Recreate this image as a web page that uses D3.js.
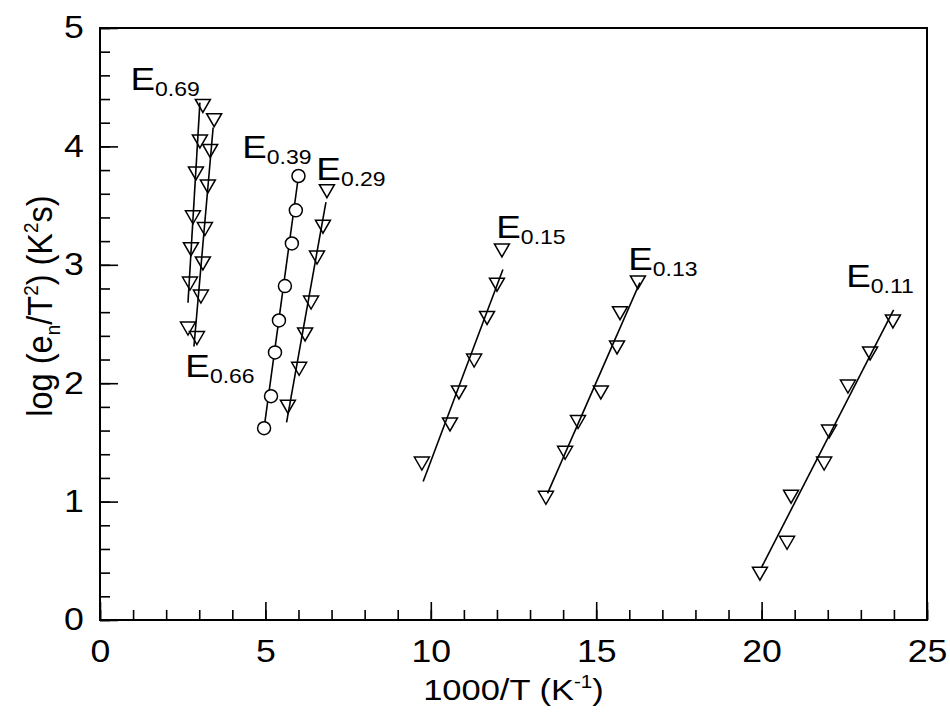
<!DOCTYPE html>
<html>
<head>
<meta charset="utf-8">
<script src="https://cdn.jsdelivr.net/npm/d3@7"></script>
<style>
  body { margin: 0; background: #fff; }
  svg { display: block; font-family: "Liberation Sans", Arial, sans-serif; }
</style>
</head>
<body>
<div id="chart-area"></div>
<script>
// Data: 1000/T (K^-1) vs log(en/T^2)
var e069 = [[3.11,4.35],[3.02,4.05],[2.90,3.78],[2.81,3.41],[2.75,3.14],[2.72,2.85],[2.66,2.47]];
var e066 = [[3.45,4.23],[3.33,3.97],[3.26,3.67],[3.17,3.31],[3.11,3.02],[3.05,2.74],[2.93,2.39]];
var e039 = [[6.00,3.75],[5.92,3.46],[5.80,3.18],[5.59,2.82],[5.41,2.53],[5.29,2.26],[5.17,1.89],[4.96,1.62]];
var e029 = [[6.86,3.63],[6.74,3.33],[6.56,3.07],[6.38,2.69],[6.20,2.42],[6.02,2.13],[5.68,1.81]];
var e015 = [[12.15,3.13],[12.00,2.84],[11.70,2.56],[11.31,2.20],[10.85,1.93],[10.58,1.66],[9.73,1.33]];
var e013 = [[16.26,2.86],[15.72,2.60],[15.63,2.31],[15.14,1.93],[14.45,1.68],[14.06,1.42],[13.48,1.04]];
var e011 = [[23.97,2.53],[23.28,2.26],[22.61,1.98],[22.04,1.60],[21.89,1.33],[20.89,1.05],[20.77,0.66],[19.95,0.40]];

// Arrhenius fit lines (end points)
var fit069 = [[2.66,2.68],[3.02,4.37]];
var fit066 = [[2.84,2.31],[3.42,4.16]];
var fit039 = [[4.96,1.62],[6.00,3.75]];
var fit029 = [[5.64,1.67],[6.83,3.53]];
var fit015 = [[9.77,1.17],[12.18,2.96]];
var fit013 = [[13.53,1.07],[16.32,2.85]];
var fit011 = [[19.99,0.44],[23.99,2.62]];

var levelNames = ["0.69", "0.66", "0.39", "0.29", "0.15", "0.13", "0.11"];
var xTicks = [0, 5, 10, 15, 20, 25];
var yTicks = [0, 1, 2, 3, 4, 5];

var margin = { left:100, right:23, top:28, bottom:104 };
var width = 950 - margin.left - margin.right,
    height = 724 - margin.top - margin.bottom;
var stretch = "scale(1.15,1)";

var svg = d3.select("#chart-area")
    .append("svg")
        .attr("width", 950)
        .attr("height", 724);
var g = svg.append("g")
    .attr("transform", "translate(" + margin.left + "," + margin.top + ")");

// Scales
var x = d3.scaleLinear().domain([0, 25]).range([0, width]);
var y = d3.scaleLinear().domain([0, 5]).range([height, 0]);

// Minor ticks (inward)
g.append("g")
    .attr("transform", "translate(0," + height + ")")
    .call(d3.axisBottom(x).tickValues(d3.range(0, 26, 1)).tickSize(-10).tickFormat(""));
g.append("g")
    .call(d3.axisLeft(y).tickValues(d3.range(0, 5.01, 0.2)).tickSize(-10).tickFormat(""));

// Major ticks + labels
var xAxis = g.append("g")
    .attr("transform", "translate(0," + height + ")")
    .call(d3.axisBottom(x).tickValues(xTicks).tickSize(-18).tickPadding(20).tickFormat(d3.format("d")));
var yAxis = g.append("g")
    .call(d3.axisLeft(y).tickValues(yTicks).tickSize(-18).tickPadding(14).tickFormat(d3.format("d")));

g.selectAll(".domain").remove();
g.selectAll(".tick line").attr("stroke", "#000").attr("stroke-width", 1.6);
[xAxis, yAxis].forEach(function(a){
    a.selectAll("text")
        .attr("font-size", 31)
        .attr("fill", "#000")
        .attr("font-family", "Liberation Sans, Arial, sans-serif")
        .attr("transform", stretch);
});

// Frame
g.append("rect")
    .attr("width", width)
    .attr("height", height)
    .attr("fill", "none")
    .attr("stroke", "#000")
    .attr("stroke-width", 2);

// Fit lines
var line = d3.line()
    .x(function(d){ return x(d[0]); })
    .y(function(d){ return y(d[1]); });

[fit069, fit066, fit039, fit029, fit015, fit013, fit011].forEach(function(f){
    g.append("path")
        .attr("d", line(f))
        .attr("fill", "none")
        .attr("stroke", "#000")
        .attr("stroke-width", 1.6);
});

// Markers
var triangle = "M-7.5,-5.5L7.5,-5.5L0,7.5Z";
[e069, e066, e029, e015, e013, e011].forEach(function(s){
    g.append("g").selectAll("path")
        .data(s)
        .enter().append("path")
            .attr("d", triangle)
            .attr("transform", function(d){ return "translate(" + x(d[0]) + "," + y(d[1]) + ")"; })
            .attr("fill", "none")
            .attr("stroke", "#000")
            .attr("stroke-width", 1.5);
});
g.append("g").selectAll("circle")
    .data(e039)
    .enter().append("circle")
        .attr("cx", function(d){ return x(d[0]); })
        .attr("cy", function(d){ return y(d[1]); })
        .attr("r", 6.5)
        .attr("fill", "#fff")
        .attr("stroke", "#000")
        .attr("stroke-width", 1.5);

// Trap labels (anchor at left of "E", baseline)
var labelAnchors = [[0.92,4.48],[2.58,2.05],[4.30,3.90],[6.54,3.72],[11.98,3.23],[15.97,2.96],[22.56,2.81]];
levelNames.forEach(function(name, i){
    var t = g.append("text")
        .attr("transform", "translate(" + x(labelAnchors[i][0]) + "," + y(labelAnchors[i][1]) + ") " + stretch)
        .attr("font-size", 32)
        .attr("fill", "#000");
    t.append("tspan").text("E");
    t.append("tspan").attr("font-size", 20).attr("dy", 6).text(name);
});

// Axis titles
var xTitle = svg.append("text")
    .attr("transform", "translate(" + (margin.left + width / 2) + ",700) " + stretch)
    .attr("text-anchor", "middle")
    .attr("font-size", 30)
    .attr("fill", "#000");
xTitle.append("tspan").text("1000/T (K");
xTitle.append("tspan").attr("font-size", 18).attr("dy", -12).text("-1");
xTitle.append("tspan").attr("dy", 12).text(")");

var yTitle = svg.append("text")
    .attr("transform", "translate(52,306) rotate(-90) scale(1.05,1.15)")
    .attr("text-anchor", "middle")
    .attr("font-size", 31)
    .attr("fill", "#000");
yTitle.append("tspan").text("log (e");
yTitle.append("tspan").attr("font-size", 18).attr("dy", 7).text("n");
yTitle.append("tspan").attr("dy", -7).text("/T");
yTitle.append("tspan").attr("font-size", 18).attr("dy", -12).text("2");
yTitle.append("tspan").attr("dy", 12).text(") (K");
yTitle.append("tspan").attr("font-size", 18).attr("dy", -12).text("2");
yTitle.append("tspan").attr("dy", 12).text("s)");
</script>
</body>
</html>
